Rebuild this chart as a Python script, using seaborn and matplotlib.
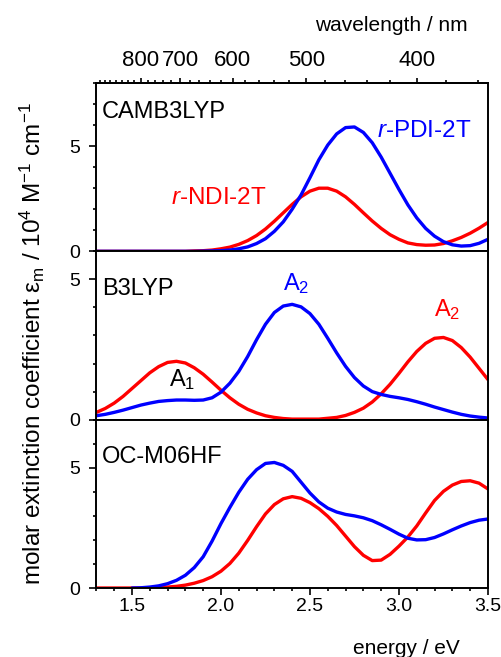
import numpy as np
import pandas as pd
import matplotlib
matplotlib.use("Agg")
import matplotlib.pyplot as plt
import seaborn as sns
from matplotlib.ticker import MultipleLocator, FixedLocator

# =============================
# DATOS
# =============================

energy = np.round(np.arange(1.30, 3.501, 0.05), 2)  # eje x, eV

# CAMB3LYP
ndi_camb = [0.00, 0.00, 0.00, 0.00, 0.00, 0.00, 0.00, 0.00, 0.00, 0.00, 0.00,
            0.02, 0.03, 0.06, 0.12, 0.20, 0.33, 0.51, 0.75, 1.06, 1.43, 1.83,
            2.23, 2.59, 2.86, 3.00, 3.00, 2.86, 2.59, 2.23, 1.83, 1.44, 1.09,
            0.79, 0.57, 0.40, 0.32, 0.29, 0.30, 0.37, 0.50, 0.66, 0.86, 1.10, 1.37]
pdi_camb = [0.00, 0.00, 0.00, 0.00, 0.00, 0.00, 0.00, 0.00, 0.00, 0.00, 0.00,
            0.00, 0.01, 0.02, 0.03, 0.06, 0.12, 0.21, 0.37, 0.60, 0.95, 1.40,
            2.00, 2.68, 3.50, 4.35, 5.05, 5.58, 5.88, 5.91, 5.65, 5.16, 4.48,
            3.71, 2.94, 2.21, 1.59, 1.09, 0.72, 0.46, 0.31, 0.25, 0.27, 0.38, 0.57]

# B3LYP
ndi_b3 = [0.26, 0.40, 0.59, 0.83, 1.11, 1.39, 1.67, 1.89, 2.04, 2.08, 2.02,
          1.85, 1.62, 1.34, 1.05, 0.78, 0.55, 0.37, 0.24, 0.14, 0.08, 0.04,
          0.02, 0.02, 0.02, 0.02, 0.05, 0.08, 0.15, 0.26, 0.41, 0.63, 0.92,
          1.26, 1.65, 2.06, 2.43, 2.72, 2.90, 2.93, 2.82, 2.57, 2.23, 1.83, 1.43]
pdi_b3 = [0.14, 0.19, 0.26, 0.34, 0.43, 0.52, 0.59, 0.65, 0.68, 0.70, 0.70,
          0.69, 0.70, 0.78, 0.98, 1.30, 1.72, 2.25, 2.85, 3.40, 3.82, 4.05,
          4.11, 4.02, 3.78, 3.40, 2.90, 2.38, 1.90, 1.50, 1.20, 1.00, 0.90,
          0.83, 0.78, 0.72, 0.64, 0.55, 0.45, 0.36, 0.27, 0.19, 0.13, 0.09, 0.06]

# OC-M06HF
ndi_oc = [0.00, 0.00, 0.00, 0.00, 0.00, 0.00, 0.01, 0.02, 0.04, 0.07, 0.12,
          0.20, 0.31, 0.47, 0.70, 1.02, 1.45, 1.98, 2.55, 3.08, 3.47, 3.71,
          3.80, 3.73, 3.55, 3.30, 2.98, 2.60, 2.16, 1.72, 1.36, 1.14, 1.16,
          1.40, 1.74, 2.12, 2.58, 3.12, 3.64, 4.02, 4.28, 4.43, 4.46, 4.36, 4.12]
pdi_oc = [np.nan, np.nan, np.nan, np.nan, 0.00, 0.01, 0.04, 0.09, 0.18, 0.32, 0.53,
          0.85, 1.30, 1.95, 2.68, 3.35, 3.98, 4.52, 4.92, 5.18, 5.22, 5.10,
          4.85, 4.40, 3.95, 3.58, 3.32, 3.16, 3.06, 3.00, 2.92, 2.80, 2.63,
          2.44, 2.24, 2.07, 2.00, 2.01, 2.10, 2.25, 2.42, 2.58, 2.72, 2.82, 2.87]

wl_major = [400, 500, 600, 700, 800]
wl_minor = list(range(360, 960, 20))

panels = [
    ("CAMB3LYP", ndi_camb, pdi_camb, 8, 6.35),
    ("B3LYP", ndi_b3, pdi_b3, 6, 4.46),
    ("OC-M06HF", ndi_oc, pdi_oc, 7, 5.21),
]

# =============================
# ESTILO
# =============================
sns.set_style("ticks")
plt.rcParams["font.family"] = ["Liberation Sans", "DejaVu Sans"]
plt.rcParams["mathtext.fontset"] = "custom"
plt.rcParams["mathtext.rm"] = "Liberation Sans"
plt.rcParams["mathtext.it"] = "Liberation Sans:italic"
plt.rcParams["axes.linewidth"] = 1.4
for key in ["text.color", "axes.labelcolor", "axes.edgecolor", "xtick.color", "ytick.color"]:
    plt.rcParams[key] = "black"

RED = "#ff0000"
BLUE = "#0000ff"

fig, axes = plt.subplots(3, 1, figsize=(5.02, 6.57), dpi=100, sharex=True)
fig.subplots_adjust(left=0.192, right=0.972, top=0.8737, bottom=0.105, hspace=0)

for ax, (name, red, blue, ytop, ylab) in zip(axes, panels):
    sns.lineplot(x=energy, y=red, ax=ax, color=RED, linewidth=2.4)
    sns.lineplot(x=energy, y=blue, ax=ax, color=BLUE, linewidth=2.4)
    ax.set_xlim(1.3, 3.5)
    ax.set_ylim(0, ytop)
    ax.set_yticks([0, 5])
    ax.yaxis.set_minor_locator(MultipleLocator(1))
    ax.xaxis.set_major_locator(MultipleLocator(0.5))
    ax.xaxis.set_minor_locator(MultipleLocator(0.1))
    ax.tick_params(which="both", direction="out", top=False, right=False, width=1.2,
                   labelsize=14, pad=2, colors="black")
    ax.tick_params(axis="y", which="both", pad=7)
    ax.tick_params(which="major", length=5)
    ax.tick_params(which="minor", length=2.5)
    for s in ax.spines.values():
        s.set_visible(True)
        s.set_linewidth(1.4)
        s.set_color("black")
    ax.set_xlabel("")
    ax.set_ylabel("")
    ax.text(1.33, ylab, name, fontsize=17, va="baseline", ha="left")

axes[2].xaxis.set_major_formatter(matplotlib.ticker.FormatStrFormatter("%.1f"))

# etiquetas de las curvas
axes[0].text(2.879, 5.45, r"$r$-PDI-2T", color=BLUE, fontsize=17.5, va="baseline")
axes[0].text(1.722, 2.23, r"$r$-NDI-2T", color=RED, fontsize=17.5, va="baseline")
axes[1].text(2.349, 4.61, r"A$_2$", color=BLUE, fontsize=17, va="baseline")
axes[1].text(3.197, 3.68, r"A$_2$", color=RED, fontsize=17, va="baseline")
axes[1].text(1.706, 1.18, r"A$_1$", color="black", fontsize=17, va="baseline")

# eje superior: longitud de onda
def e2nm(x):
    x = np.asarray(x, dtype=float)
    with np.errstate(divide="ignore"):
        return 1239.84 / x

secax = axes[0].secondary_xaxis("top", functions=(e2nm, e2nm))
secax.xaxis.set_major_locator(FixedLocator(wl_major))
secax.xaxis.set_minor_locator(FixedLocator(wl_minor))
secax.tick_params(which="both", direction="out", width=1.2, labelsize=16, pad=5, colors="black")
secax.tick_params(which="major", length=3.6)
secax.tick_params(which="minor", length=2.2)

fig.text(0.932, 0.961, "wavelength / nm", fontsize=15, ha="right", va="center")
fig.text(0.916, 0.0125, "energy / eV", fontsize=15, ha="right", va="center")
fig.text(0.064, 0.4764,
         r"molar extinction coefficient ε$_\mathrm{m}$ / 10$^4$ M$^{-1}$ cm$^{-1}$",
         fontsize=17.5, rotation=90, ha="center", va="center")

fig.savefig("out.png", dpi=100)
